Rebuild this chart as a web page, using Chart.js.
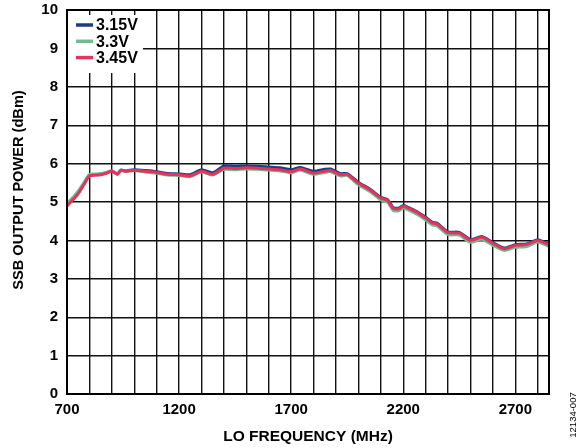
<!DOCTYPE html>
<html>
<head>
<meta charset="utf-8">
<script src="https://cdn.jsdelivr.net/npm/chart.js@4.4.1/dist/chart.umd.min.js"></script>
<style>
  body { margin: 0; background: #fff; }
  #wrap { width: 588px; height: 448px; }
</style>
</head>
<body>
<div id="wrap"><canvas id="myChart" width="588" height="448"></canvas></div>
<script>
// LO frequency (MHz) sample points
const freq = [700, 725, 750, 775, 800, 825, 850, 875, 900, 925, 940, 960, 1000, 1050, 1100, 1150,
    1200, 1250, 1300, 1350, 1400, 1450, 1500, 1550, 1600, 1650, 1700, 1740, 1800, 1850, 1875, 1920,
    1950, 2000, 2050, 2100, 2130, 2155, 2180, 2200, 2260, 2300, 2330, 2350, 2400, 2450, 2500, 2550,
    2600, 2650, 2700, 2750, 2800, 2850];

const v315 = [4.91, 5.07, 5.24, 5.47, 5.70, 5.71, 5.72, 5.76, 5.81, 5.73, 5.83, 5.81, 5.84, 5.82, 5.79, 5.74,
    5.73, 5.71, 5.84, 5.76, 5.94, 5.93, 5.94, 5.93, 5.91, 5.89, 5.84, 5.90, 5.80, 5.85, 5.86, 5.74,
    5.74, 5.51, 5.34, 5.12, 5.06, 4.85, 4.84, 4.91, 4.75, 4.60, 4.47, 4.45, 4.22, 4.21, 4.02, 4.10,
    3.94, 3.80, 3.89, 3.91, 4.02, 3.90];

const v33 = [4.96, 5.11, 5.28, 5.50, 5.72, 5.73, 5.74, 5.77, 5.81, 5.74, 5.82, 5.80, 5.82, 5.78, 5.75, 5.70,
    5.69, 5.66, 5.78, 5.70, 5.85, 5.84, 5.86, 5.85, 5.83, 5.81, 5.76, 5.83, 5.72, 5.77, 5.79, 5.68,
    5.69, 5.45, 5.28, 5.05, 4.99, 4.78, 4.77, 4.84, 4.68, 4.53, 4.40, 4.38, 4.15, 4.14, 3.95, 4.03,
    3.87, 3.74, 3.82, 3.84, 3.96, 3.84];

const v345 = [4.90, 5.05, 5.22, 5.45, 5.68, 5.70, 5.71, 5.75, 5.80, 5.72, 5.82, 5.80, 5.83, 5.80, 5.77, 5.72,
    5.71, 5.68, 5.80, 5.72, 5.88, 5.87, 5.89, 5.88, 5.86, 5.84, 5.79, 5.86, 5.75, 5.80, 5.82, 5.71,
    5.72, 5.49, 5.32, 5.10, 5.04, 4.83, 4.82, 4.89, 4.73, 4.58, 4.45, 4.43, 4.20, 4.19, 4.00, 4.08,
    3.92, 3.78, 3.87, 3.89, 4.00, 3.88];

const seriesNames = ['3.15V', '3.3V', '3.45V'];
const seriesColors = ['#1c3c86', '#6dbd8e', '#e2345c'];

const xTicks = [700, 800, 900, 1000, 1100, 1200, 1300, 1400, 1500, 1600, 1700, 1800, 1900, 2000,
    2100, 2200, 2300, 2400, 2500, 2600, 2700, 2800];
const xLabels = [700, 1200, 1700, 2200, 2700];
const yTicks = [0, 1, 2, 3, 4, 5, 6, 7, 8, 9, 10];

function toPoints(values) {
    return freq.map((f, i) => ({ x: f, y: values[i] }));
}

Chart.defaults.font.family = '"Liberation Sans", Arial, sans-serif';
Chart.defaults.color = '#000';

// box round the plot, legend inside the plot, y title, figure number on the right
const framePlugin = {
    id: 'frame',
    afterDatasetsDraw(chart) {
        const ctx = chart.ctx;
        const a = chart.chartArea;
        ctx.save();
        ctx.strokeStyle = '#000';
        ctx.lineWidth = 2;
        ctx.strokeRect(a.left, a.top, a.right - a.left, a.bottom - a.top);

        // legend
        const lx = a.left + 1, ly = a.top + 5;
        ctx.fillStyle = '#fff';
        ctx.fillRect(lx, ly, 75, 58);
        ctx.font = 'bold 16px "Liberation Sans", Arial, sans-serif';
        ctx.textBaseline = 'middle';
        for (let i = 0; i < seriesNames.length; i++) {
            const y = a.top + 15 + i * 16.3;
            ctx.strokeStyle = seriesColors[i];
            ctx.lineWidth = 3.5;
            ctx.beginPath();
            ctx.moveTo(a.left + 9, y);
            ctx.lineTo(a.left + 26, y);
            ctx.stroke();
            ctx.fillStyle = '#000';
            ctx.fillText(seriesNames[i], a.left + 29, y + 1);
        }
        ctx.restore();

        ctx.save();
        ctx.translate(19, 190);
        ctx.rotate(-Math.PI / 2);
        ctx.font = 'bold 14.6px "Liberation Sans", Arial, sans-serif';
        ctx.textAlign = 'center';
        ctx.textBaseline = 'middle';
        ctx.fillStyle = '#000';
        ctx.fillText('SSB OUTPUT POWER (dBm)', 0, 0);
        ctx.restore();

        ctx.save();
        ctx.translate(576, 415);
        ctx.rotate(-Math.PI / 2);
        ctx.font = '9.5px "Liberation Sans", Arial, sans-serif';
        ctx.textAlign = 'center';
        ctx.fillStyle = '#000';
        ctx.fillText('12134-007', 0, 0);
        ctx.restore();
    }
};

function createChart() {
    const ctx = document.getElementById('myChart').getContext('2d');
    new Chart(ctx, {
        type: 'line',
        data: {
            datasets: [
                { label: seriesNames[0], data: toPoints(v315), borderColor: seriesColors[0], borderWidth: 3, order: 3 },
                { label: seriesNames[1], data: toPoints(v33), borderColor: seriesColors[1], borderWidth: 3, order: 2 },
                { label: seriesNames[2], data: toPoints(v345), borderColor: seriesColors[2], borderWidth: 3, order: 1 }
            ]
        },
        options: {
            responsive: false,
            animation: false,
            elements: { point: { radius: 0 }, line: { tension: 0.2 } },
            layout: { padding: { left: 0, right: 39, top: 10, bottom: 0 } },
            plugins: { legend: { display: false }, tooltip: { enabled: false } },
            scales: {
                x: {
                    type: 'linear',
                    min: 700,
                    max: 2850,
                    afterBuildTicks: scale => { scale.ticks = xTicks.map(v => ({ value: v })); },
                    afterFit: scale => { scale.height = 54; },
                    grid: { color: '#111', lineWidth: 1.4, drawTicks: false },
                    border: { color: '#000', width: 2 },
                    ticks: {
                        padding: 7,
                        maxRotation: 0,
                        autoSkip: false,
                        font: { size: 15, weight: 'bold' },
                        callback: v => xLabels.includes(v) ? String(v) : ''
                    },
                    title: {
                        display: true,
                        text: 'LO FREQUENCY (MHz)',
                        font: { size: 15.5, weight: 'bold' },
                        padding: { top: 0, bottom: 2 }
                    }
                },
                y: {
                    min: 0,
                    max: 10,
                    afterBuildTicks: scale => { scale.ticks = yTicks.map(v => ({ value: v })); },
                    afterFit: scale => {
                        scale.width = 67;
                        scale.paddingTop = 0;
                        scale.paddingBottom = 0;
                    },
                    grid: { color: '#111', lineWidth: 1.4, drawTicks: false },
                    border: { color: '#000', width: 2 },
                    ticks: {
                        padding: 9,
                        font: { size: 15, weight: 'bold' }
                    }
                }
            }
        },
        plugins: [framePlugin]
    });
}

createChart();
</script>
</body>
</html>
